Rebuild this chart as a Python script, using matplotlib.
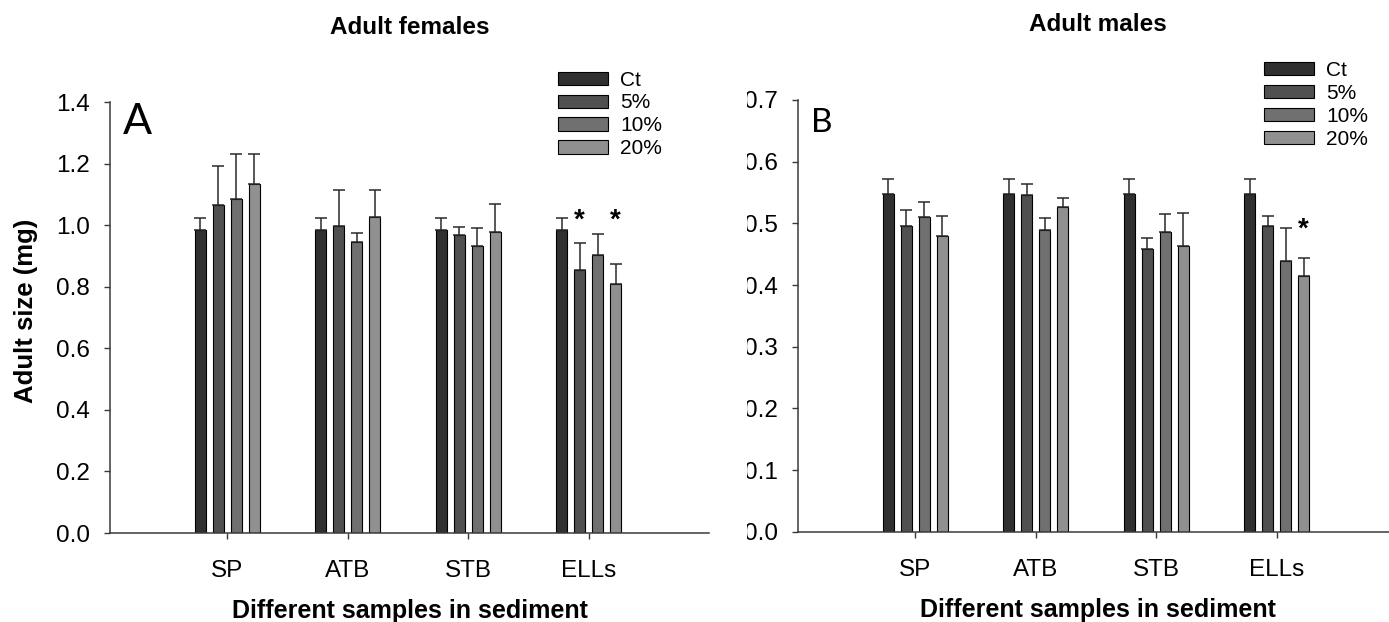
import numpy as np
import matplotlib
matplotlib.use("Agg")
import matplotlib.pyplot as plt
from matplotlib.transforms import Bbox, TransformedBbox

# ---- data -----------------------------------------------------------------
categories = ["SP", "ATB", "STB", "ELLs"]
treatments = ["Ct", "5%", "10%", "20%"]
bar_colors = ["#303030", "#505050", "#707070", "#909090"]

female_mean = {
    "Ct":  [0.986, 0.986, 0.986, 0.986],
    "5%":  [1.068, 0.999, 0.969, 0.856],
    "10%": [1.087, 0.946, 0.932, 0.903],
    "20%": [1.136, 1.027, 0.979, 0.811],
}
female_sd = {
    "Ct":  [0.039, 0.039, 0.039, 0.039],
    "5%":  [0.126, 0.116, 0.027, 0.087],
    "10%": [0.145, 0.031, 0.061, 0.069],
    "20%": [0.096, 0.087, 0.092, 0.064],
}
male_mean = {
    "Ct":  [0.547, 0.547, 0.547, 0.547],
    "5%":  [0.496, 0.546, 0.458, 0.496],
    "10%": [0.510, 0.489, 0.486, 0.439],
    "20%": [0.480, 0.527, 0.463, 0.415],
}
male_sd = {
    "Ct":  [0.025, 0.025, 0.025, 0.025],
    "5%":  [0.026, 0.018, 0.018, 0.016],
    "10%": [0.025, 0.019, 0.029, 0.054],
    "20%": [0.032, 0.014, 0.053, 0.028],
}
# significance marks: (category, treatment)
female_signif = [("ELLs", "5%"), ("ELLs", "20%")]
male_signif = [("ELLs", "20%")]

female_ticks = [0.0, 0.2, 0.4, 0.6, 0.8, 1.0, 1.2, 1.4]
male_ticks = [0.0, 0.1, 0.2, 0.3, 0.4, 0.5, 0.6, 0.7]

# ---- figure ---------------------------------------------------------------
W, H = 1389, 622
fig = plt.figure(figsize=(W / 100, H / 100), dpi=100)
plt.rcParams["font.family"] = ["Liberation Sans", "DejaVu Sans"]

def px_box(x0, x1, ytop, ybot):
    return [x0 / W, 1 - ybot / H, (x1 - x0) / W, (ybot - ytop) / H]

axA = fig.add_axes(px_box(110, 709, 102.4, 533))
axB = fig.add_axes(px_box(798, 1397, 100, 531.7))

offsets = [-0.225, -0.075, 0.075, 0.225]
bar_w = 0.092
x = np.arange(1, len(categories) + 1)


def panel(ax, means, sds, ticks, signif, star_pad, title, letter, letter_size,
          legend_anchor):
    handles = []
    for off, t, c in zip(offsets, treatments, bar_colors):
        b = ax.bar(x + off, means[t], width=bar_w, color=c, edgecolor="black",
                   linewidth=0.8, label=t, zorder=2)
        handles.append(b)
        lower = np.zeros(len(categories))
        ax.errorbar(x + off, means[t], yerr=[lower, sds[t]], fmt="none",
                    ecolor="#2a2a2a", elinewidth=1.1, capsize=4,
                    capthick=1.1, zorder=3)
    for cat, t in signif:
        i = categories.index(cat)
        j = treatments.index(t)
        ax.text(x[i] + offsets[j], star_pad, "*", ha="center",
                va="baseline", fontsize=20, fontweight="bold")

    ax.set_xlim(0.025, 5.0)
    ax.set_ylim(ticks[0], ticks[-1])
    ax.set_yticks(ticks)
    ax.set_yticklabels([f"{v:.1f}" for v in ticks])
    ax.set_xticks(x)
    ax.set_xticklabels(categories)
    for s in ["top", "right"]:
        ax.spines[s].set_visible(False)
    for s in ["left", "bottom"]:
        ax.spines[s].set_color("#3a3a3a")
        ax.spines[s].set_linewidth(1.1)
    ax.tick_params(axis="y", direction="out", length=4.5, width=1,
                   color="#3a3a3a", labelsize=17.5, pad=10)
    ax.tick_params(axis="x", direction="out", length=4.5, width=1,
                   color="#3a3a3a", labelsize=17.5, pad=15)

    ax.set_xlabel("Different samples in sediment", fontsize=18,
                  fontweight="bold")
    ax.xaxis.label.set_va("center")
    ax.xaxis.set_label_coords(0.5, -0.181)

    ax.text(0.5, 1.174, title, transform=ax.transAxes, ha="center",
            va="center", fontsize=17.5, fontweight="bold")
    ax.text(0.022, 0.926, letter, transform=ax.transAxes, ha="left",
            va="baseline", fontsize=letter_size, family="Lato")

    ax.legend(handles=handles, labels=treatments, loc="upper left",
              bbox_to_anchor=(legend_anchor[0] / W, 1 - legend_anchor[1] / H),
              bbox_transform=fig.transFigure, frameon=False, fontsize=15,
              handlelength=2.4, handleheight=0.6, handletextpad=0.58,
              labelspacing=0.19, borderpad=0, borderaxespad=0)


panel(axA, female_mean, female_sd, female_ticks, female_signif, 0.994,
      "Adult females", "A", 31, (558, 70.5))
panel(axB, male_mean, male_sd, male_ticks, male_signif, 0.479,
      "Adult males", "B", 24, (1264, 61))

axA.set_ylabel("Adult size (mg)", fontsize=18.5, fontweight="bold")
axA.yaxis.label.set_va("center")
axA.yaxis.set_label_coords(-0.14, 0.515)

# right-hand panel's tick labels are cut at the panel boundary
clip = TransformedBbox(Bbox([[747 / W, 0], [1, 1]]), fig.transFigure)
for tk in axB.yaxis.get_major_ticks():
    tk.label1.set_clip_box(clip)
    tk.label1.set_clip_on(True)

fig.savefig("out.png", dpi=100)
